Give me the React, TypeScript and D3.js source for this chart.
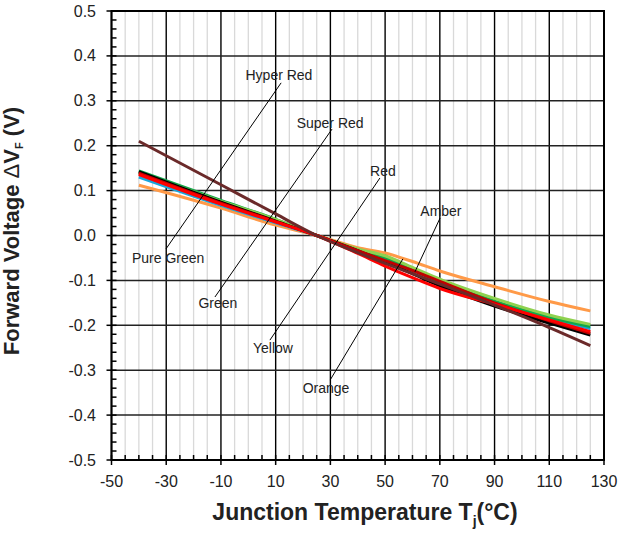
import React, { useEffect, useRef } from 'react';
import * as d3 from 'd3';

// temperature points (°C) where the curves were read
const temps = [-40, -10, 10, 25, 40, 50, 60, 70, 90, 110, 125];

// forward voltage change (V)
const orange = [0.112, 0.061, 0.023, 0, -0.027, -0.039, -0.058, -0.079, -0.114, -0.147, -0.168];
const pureGreen = [0.130, 0.067, 0.028, 0, -0.033, -0.052, -0.077, -0.104, -0.148, -0.185, -0.207];
const green = [0.144, 0.078, 0.036, 0, -0.032, -0.050, -0.075, -0.103, -0.146, -0.182, -0.203];
const yellow = [0.140, 0.076, 0.036, 0, -0.030, -0.045, -0.071, -0.097, -0.140, -0.177, -0.198];
const amber = [0.142, 0.074, 0.032, 0, -0.034, -0.058, -0.085, -0.112, -0.157, -0.195, -0.222];
const superRed = [0.139, 0.072, 0.031, 0, -0.034, -0.056, -0.078, -0.102, -0.150, -0.190, -0.218];
const red = [0.136, 0.070, 0.030, 0, -0.040, -0.068, -0.094, -0.118, -0.153, -0.188, -0.214];
const hyperRed = [0.210, 0.113, 0.048, 0, -0.038, -0.062, -0.085, -0.108, -0.155, -0.205, -0.245];

const seriesNames = ['Orange', 'Pure Green', 'Green', 'Yellow', 'Amber', 'Super Red', 'Red', 'Hyper Red'];
const seriesValues = [orange, pureGreen, green, yellow, amber, superRed, red, hyperRed];
const seriesColors = ['#ff9a48', '#1aa6dc', '#10a84a', '#8fd14f', '#000000', '#c00000', '#ff0000', '#6b2a2a'];

// label text positions (T, V)
const labelNames = ['Hyper Red', 'Super Red', 'Red', 'Amber', 'Pure Green', 'Green', 'Yellow', 'Orange'];
const labelT = [11.2, 29.9, 49.2, 70.4, -29.3, -11.1, 9.0, 28.4];
const labelV = [0.357, 0.251, 0.144, 0.055, -0.050, -0.150, -0.251, -0.340];

// leader lines [T1, V1, T2, V2]
const leaders = [
  [12.0, 0.340, -30.1, -0.030],
  [30.6, 0.237, -12.2, -0.137],
  [48.1, 0.128, 7.9, -0.233],
  [70.1, 0.039, 60.9, -0.081],
  [56.5, -0.052, 29.9, -0.322],
];

const xMajor = d3.range(-50, 131, 20);
const xMinor = d3.range(-50, 131, 5);
const yMajor = d3.range(-5, 6).map(d => d / 10);
const yMinor = d3.range(-25, 26).map(d => d / 50);

const Chart = () => {
  const svgRef = useRef(null);

  useEffect(() => {
    const svg = d3.select(svgRef.current);
    svg.selectAll('*').remove();
    const font = 'Liberation Sans, Arial, sans-serif';

    const x = d3.scaleLinear().domain([-50, 130]).range([111.5, 604]);
    const y = d3.scaleLinear().domain([-0.5, 0.5]).range([460, 11]);

    // minor vertical grid
    svg.append('g').selectAll('line')
      .data(xMinor.filter(d => (d + 50) % 20 !== 0))
      .enter().append('line')
      .attr('x1', d => x(d)).attr('x2', d => x(d))
      .attr('y1', y(0.5)).attr('y2', y(-0.5))
      .attr('stroke', '#d9d9d9').attr('stroke-width', 1.3);

    // major grid
    svg.append('g').selectAll('line')
      .data(xMajor)
      .enter().append('line')
      .attr('x1', d => x(d)).attr('x2', d => x(d))
      .attr('y1', y(0.5)).attr('y2', y(-0.5))
      .attr('stroke', '#000').attr('stroke-width', 1.4);
    svg.append('g').selectAll('line')
      .data(yMajor)
      .enter().append('line')
      .attr('x1', x(-50)).attr('x2', x(130))
      .attr('y1', d => y(d)).attr('y2', d => y(d))
      .attr('stroke', '#222').attr('stroke-width', 1.5);

    // frame
    svg.append('rect')
      .attr('x', x(-50)).attr('y', y(0.5))
      .attr('width', x(130) - x(-50)).attr('height', y(-0.5) - y(0.5))
      .attr('fill', 'none').attr('stroke', '#000').attr('stroke-width', 2);

    // minor ticks (inward)
    svg.append('g').selectAll('line')
      .data(yMinor)
      .enter().append('line')
      .attr('x1', x(-50)).attr('x2', x(-50) + 5)
      .attr('y1', d => y(d)).attr('y2', d => y(d))
      .attr('stroke', '#000').attr('stroke-width', 1.5);
    svg.append('g').selectAll('line')
      .data(xMinor)
      .enter().append('line')
      .attr('x1', d => x(d)).attr('x2', d => x(d))
      .attr('y1', y(-0.5)).attr('y2', y(-0.5) - 5)
      .attr('stroke', '#000').attr('stroke-width', 1.5);

    // major ticks (outward)
    svg.append('g').selectAll('line')
      .data(yMajor)
      .enter().append('line')
      .attr('x1', x(-50) - 5).attr('x2', x(-50))
      .attr('y1', d => y(d)).attr('y2', d => y(d))
      .attr('stroke', '#000').attr('stroke-width', 1.5);
    svg.append('g').selectAll('line')
      .data(xMajor)
      .enter().append('line')
      .attr('x1', d => x(d)).attr('x2', d => x(d))
      .attr('y1', y(-0.5)).attr('y2', y(-0.5) + 5)
      .attr('stroke', '#000').attr('stroke-width', 1.5);

    // tick labels
    svg.append('g').selectAll('text')
      .data(yMajor)
      .enter().append('text')
      .attr('x', 96).attr('y', d => y(d) + 5.5)
      .attr('text-anchor', 'end')
      .attr('font-family', font).attr('font-size', 16).attr('fill', '#222')
      .text(d => d.toFixed(1));
    svg.append('g').selectAll('text')
      .data(xMajor)
      .enter().append('text')
      .attr('x', d => x(d)).attr('y', 487)
      .attr('text-anchor', 'middle')
      .attr('font-family', font).attr('font-size', 16).attr('fill', '#222')
      .text(d => String(d));

    // curves
    const line = d3.line<number>()
      .x((d, i) => x(temps[i]))
      .y(d => y(d))
      .curve(d3.curveMonotoneX);
    svg.append('g').selectAll('path')
      .data(seriesValues)
      .enter().append('path')
      .attr('d', d => line(d))
      .attr('fill', 'none')
      .attr('stroke', (d, i) => seriesColors[i])
      .attr('stroke-width', 3);

    // leader lines
    svg.append('g').selectAll('line')
      .data(leaders)
      .enter().append('line')
      .attr('x1', d => x(d[0])).attr('y1', d => y(d[1]))
      .attr('x2', d => x(d[2])).attr('y2', d => y(d[3]))
      .attr('stroke', '#000').attr('stroke-width', 1);

    // labels
    svg.append('g').selectAll('text')
      .data(labelNames)
      .enter().append('text')
      .attr('x', (d, i) => x(labelT[i]))
      .attr('y', (d, i) => y(labelV[i]) + 5)
      .attr('text-anchor', 'middle')
      .attr('font-family', font).attr('font-size', 14).attr('fill', '#222')
      .text(d => d);

    // axis titles
    const xt = svg.append('text')
      .attr('x', 365).attr('y', 520)
      .attr('text-anchor', 'middle')
      .attr('font-family', font).attr('font-size', 23).attr('font-weight', 'bold').attr('fill', '#222');
    xt.append('tspan').text('Junction Temperature T');
    xt.append('tspan').attr('font-size', 14).attr('dy', 6).text('j');
    xt.append('tspan').attr('dy', -6).text('(°C)');

    const yt = svg.append('text')
      .attr('transform', 'translate(19,231) rotate(-90)')
      .attr('text-anchor', 'middle')
      .attr('font-family', font).attr('font-size', 22).attr('font-weight', 'bold').attr('fill', '#222');
    yt.append('tspan').text('Forward Voltage ');
    yt.append('tspan').attr('font-weight', 'normal').text('Δ');
    yt.append('tspan').text('V');
    yt.append('tspan').attr('font-size', 11).attr('dy', 4).text('F');
    yt.append('tspan').attr('dy', -4).text(' (V)');
  }, []);

  return (
    <svg ref={svgRef} width={622} height={534}
      style={{ position: 'absolute', left: 0, top: 0, background: '#fff' }} />
  );
};

export default function App() {
  return <Chart />;
}
